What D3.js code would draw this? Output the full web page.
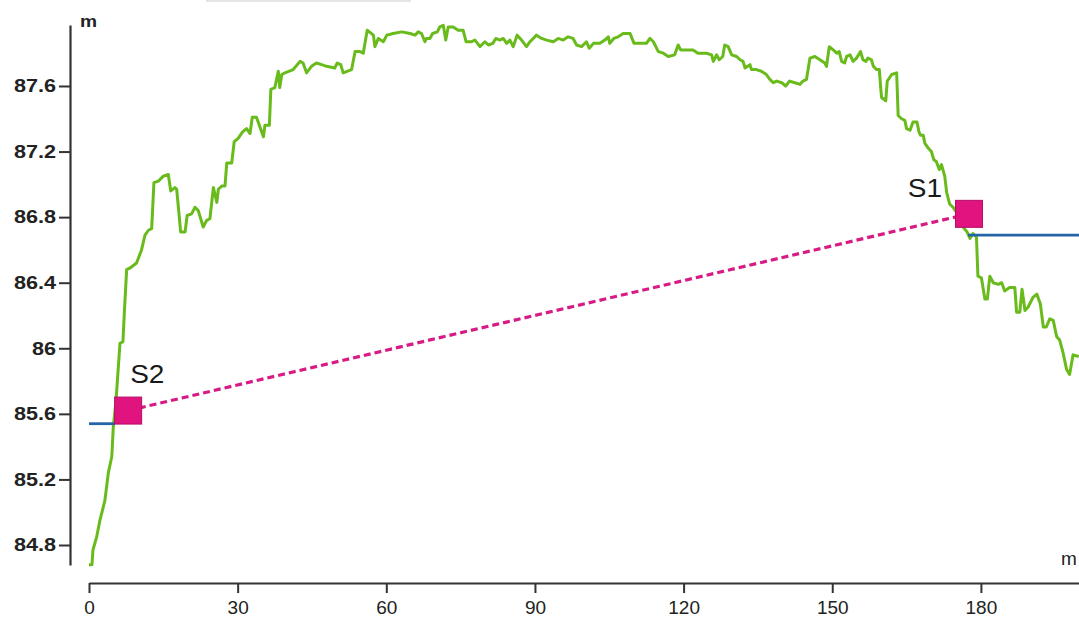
<!DOCTYPE html>
<html><head><meta charset="utf-8">
<script src="https://cdn.jsdelivr.net/npm/d3@7"></script>
<style>
body{margin:0;background:#fff;}
svg{display:block;font-family:Arial,"Liberation Sans",sans-serif;}
</style>
</head><body>
<svg id="chart" width="1079" height="628"></svg>
<script>
// ---- data (distance in m, elevation in m) ----
const profileDist = [0,0.6,0.8,1.55,2.2,3.2,3.9,4.6,4.9,5.45,6.25,6.85,7.15,7.6,8.3,9.6,10.6,11.3,12.0,12.65,13.1,14.0,15.0,16.0,16.5,17.35,17.7,18.5,19.4,19.8,20.7,21.4,22.05,23.05,23.75,24.4,25.1,25.8,26.1,26.8,27.45,27.8,28.8,29.3,30.1,31.0,31.8,32.5,32.95,33.8,34.5,35.2,35.5,36.4,36.7,37.5,38.2,38.5,38.9,39.55,41.2,42.6,43.2,43.9,44.9,45.9,46.95,47.95,49.6,50.1,50.8,51.3,53.0,53.7,54.7,55.35,56.15,57.4,57.7,58.4,59.4,60.1,61.4,63.1,64.8,65.8,66.45,67.1,67.8,68.1,68.8,69.35,70.3,70.8,71.5,72.0,72.5,73.5,74.5,75.5,76.1,77.2,77.9,78.9,79.9,80.6,81.5,82.1,82.9,83.6,84.3,84.95,85.6,86.4,87.3,88.3,89.0,89.65,90.3,91.35,92.35,93.7,94.7,95.7,96.7,97.7,98.4,99.4,100.4,100.95,101.8,103.1,104.1,104.8,105.1,105.9,106.8,107.8,109.2,110.0,112.5,113.2,113.9,114.9,115.9,116.9,118.2,118.9,119.4,120.9,121.9,122.9,124.6,125.65,126.0,126.65,127.2,127.9,128.3,129.0,129.7,130.7,131.4,132.0,132.4,133.4,133.7,134.7,135.7,136.7,137.4,138.1,138.8,139.8,140.6,141.4,142.45,143.5,144.1,144.8,145.5,146.5,147.5,148.5,148.85,149.4,150.2,150.9,151.4,151.9,152.5,152.9,153.6,154.2,154.9,155.7,156.2,156.8,157.2,157.9,158.3,158.9,159.5,159.75,159.95,160.8,161.1,162.0,163.0,163.3,164.0,164.65,165.0,165.7,166.3,167.1,167.5,167.8,168.35,168.7,169.4,170.0,170.5,171.0,171.6,172.05,172.7,173.1,173.7,174.4,175.75,176.4,177.2,177.8,178.4,179.1,179.4,180.1,180.8,181.3,181.8,182.5,183.5,184.2,184.8,185.8,186.85,187.2,187.85,188.3,188.9,189.5,190.5,191.3,192.0,192.6,193.2,193.9,194.6,195.3,195.9,196.6,197.3,197.9,198.6,199.75];
const profileElev = [84.68,84.68,84.77,84.85,84.95,85.07,85.24,85.34,85.52,85.68,86.03,86.04,86.23,86.48,86.49,86.52,86.60,86.69,86.72,86.73,87.01,87.02,87.05,87.06,86.96,86.98,86.97,86.71,86.71,86.81,86.82,86.86,86.84,86.74,86.78,86.79,86.98,86.89,86.97,86.99,86.99,87.13,87.13,87.26,87.28,87.32,87.34,87.31,87.41,87.41,87.35,87.29,87.36,87.36,87.58,87.59,87.69,87.59,87.67,87.68,87.70,87.75,87.74,87.68,87.72,87.74,87.73,87.72,87.71,87.74,87.73,87.68,87.70,87.81,87.81,87.80,87.94,87.91,87.84,87.89,87.87,87.91,87.92,87.93,87.92,87.91,87.93,87.92,87.87,87.89,87.89,87.92,87.93,87.96,87.97,87.88,87.96,87.96,87.94,87.94,87.87,87.87,87.88,87.84,87.87,87.85,87.86,87.89,87.88,87.89,87.86,87.88,87.84,87.91,87.88,87.84,87.87,87.89,87.91,87.89,87.88,87.87,87.89,87.88,87.90,87.89,87.85,87.84,87.87,87.83,87.86,87.86,87.88,87.90,87.86,87.89,87.90,87.92,87.92,87.86,87.86,87.89,87.87,87.81,87.80,87.78,87.79,87.85,87.82,87.82,87.82,87.80,87.80,87.79,87.75,87.79,87.76,87.78,87.85,87.84,87.79,87.78,87.76,87.75,87.71,87.73,87.70,87.70,87.69,87.67,87.64,87.62,87.63,87.62,87.60,87.63,87.62,87.61,87.63,87.64,87.77,87.78,87.76,87.74,87.72,87.84,87.82,87.80,87.81,87.75,87.74,87.78,87.79,87.75,87.77,87.81,87.76,87.75,87.77,87.76,87.72,87.70,87.70,87.60,87.53,87.51,87.63,87.67,87.68,87.42,87.40,87.39,87.34,87.33,87.38,87.38,87.32,87.30,87.30,87.25,87.22,87.20,87.15,87.14,87.09,87.12,87.05,86.95,86.88,86.86,86.80,86.74,86.71,86.67,86.70,86.68,86.44,86.43,86.30,86.30,86.44,86.40,86.39,86.40,86.35,86.37,86.37,86.22,86.22,86.36,86.23,86.25,86.31,86.33,86.27,86.13,86.13,86.18,86.17,86.07,86.05,85.97,85.87,85.84,85.96,85.95];

const leftLevelDist = [0, 5.2];
const leftLevelElev = [85.54, 85.54];
const rightLevelDist = [177.4, 200];
const rightLevelElev = [86.69, 86.69];

const stationNames = ["S2", "S1"];
const stationDist = [7.9, 177.6];
const stationElev = [85.62, 86.82];

const xTicks = [0, 30, 60, 90, 120, 150, 180];
const yTicks = [84.8, 85.2, 85.6, 86, 86.4, 86.8, 87.2, 87.6];
const xUnit = "m", yUnit = "m";

// ---- drawing ----
const svg = d3.select("#chart");
const x = d3.scaleLinear().domain([0, 200]).range([89, 1080]);
const y = d3.scaleLinear().domain([84.678, 87.972]).range([565, 25]);
const STRETCH = 1.2; // the reference text is horizontally widened

// faint box edge at the top
svg.append("rect").attr("x", 207).attr("y", -30).attr("width", 203).attr("height", 31)
  .attr("fill", "#fff").attr("stroke", "#ddd").attr("stroke-width", 1.5);

// x axis
const gx = svg.append("g").attr("transform", "translate(0,583)")
  .call(d3.axisBottom(x).tickValues(xTicks).tickSize(10).tickSizeOuter(0).tickPadding(8));
gx.select(".domain").attr("stroke", "#333").attr("stroke-width", 2.2);
gx.selectAll(".tick line").attr("stroke", "#333").attr("stroke-width", 2);
gx.selectAll(".tick text").attr("font-size", 19).attr("fill", "#222")
  .attr("font-family", "Arial, 'Liberation Sans', sans-serif");

// y axis
const gy = svg.append("g").attr("transform", "translate(70,0)")
  .call(d3.axisLeft(y).tickValues(yTicks).tickSize(11).tickSizeOuter(0).tickPadding(3)
    .tickFormat(d => String(+d.toFixed(1))));
gy.select(".domain").attr("stroke", "#333").attr("stroke-width", 2.2);
gy.selectAll(".tick line").attr("stroke", "#333").attr("stroke-width", 2);
gy.selectAll(".tick text").attr("font-size", 18).attr("font-weight", "bold").attr("fill", "#222")
  .attr("font-family", "Arial, 'Liberation Sans', sans-serif")
  .attr("x", -14 / STRETCH).attr("transform", `scale(${STRETCH},1)`);

// unit labels
svg.append("text").attr("transform", `translate(80,27) scale(${STRETCH},1)`)
  .attr("font-size", 16).attr("font-weight", "bold").attr("fill", "#222").text(yUnit);
svg.append("text").attr("x", 1061).attr("y", 565).attr("font-size", 19)
  .attr("fill", "#222").text(xUnit);

const line = d3.line().x(d => x(d[0])).y(d => y(d[1]));

// terrain profile
svg.append("path").datum(d3.zip(profileDist, profileElev))
  .attr("d", line).attr("fill", "none").attr("stroke", "#68bb1b")
  .attr("stroke-width", 3).attr("stroke-linejoin", "round");

// level lines
[[leftLevelDist, leftLevelElev], [rightLevelDist, rightLevelElev]].forEach(([ds, es]) => {
  svg.append("path").datum(d3.zip(ds, es)).attr("d", line)
    .attr("fill", "none").attr("stroke", "#2664a8").attr("stroke-width", 2.8);
});

// dashed sight line between stations
svg.append("path").datum(d3.zip(stationDist, stationElev)).attr("d", line)
  .attr("fill", "none").attr("stroke", "#d81b84").attr("stroke-width", 3.2)
  .attr("stroke-dasharray", "7,4");

// station squares + labels
const sq = 27;
const labelPos = { S2: { dx: 2, dy: -28, anchor: "start" }, S1: { dx: -27, dy: -17, anchor: "end" } };
stationNames.forEach((name, i) => {
  const cx = x(stationDist[i]), cy = y(stationElev[i]);
  svg.append("rect").attr("x", cx - sq / 2).attr("y", cy - sq / 2).attr("width", sq).attr("height", sq)
    .attr("fill", "#e0137f").attr("stroke", "#b50f66").attr("stroke-width", 1);
  const lp = labelPos[name];
  svg.append("text").attr("transform", `translate(${cx + lp.dx},${cy + lp.dy}) scale(1.12,1)`)
    .attr("text-anchor", lp.anchor)
    .attr("font-size", 25).attr("fill", "#1a1a1a").text(name);
});
</script>
</body></html>
